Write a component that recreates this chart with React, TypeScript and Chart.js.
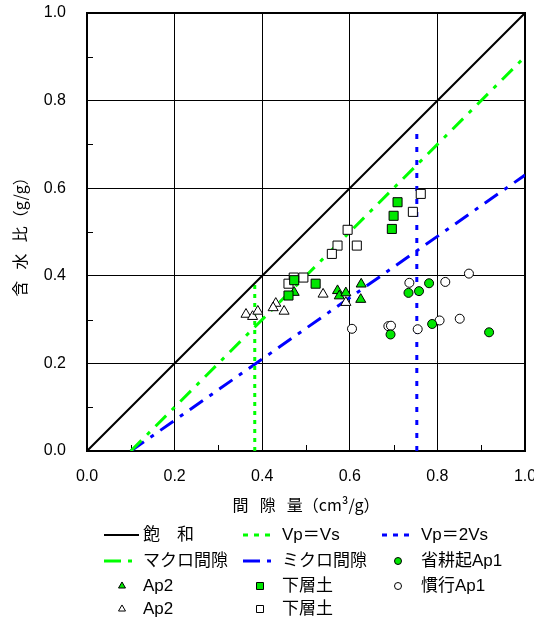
import React, { useEffect, useRef } from 'react';
import { Chart, registerables } from 'chart.js';
Chart.register(...registerables);

// ---- reference lines ----
const saturationX = [0, 1];
const saturationY = [0, 1];
const vpVsX = [0.383, 0.383];
const vpVsY = [0, 0.383];
const vp2VsX = [0.753, 0.753];
const vp2VsY = [0, 0.74];
const macroX = [0.1, 1.0];
const macroY = [0, 0.9];
const microX = [0.1, 1.0];
const microY = [0, 0.63];

// ---- measured points (x: 間隙量, y: 含水比) ----
const noTillAp1X = [0.693, 0.734, 0.758, 0.781, 0.788, 0.918];
const noTillAp1Y = [0.266, 0.361, 0.365, 0.383, 0.290, 0.271];

const convAp1X = [0.605, 0.688, 0.694, 0.736, 0.755, 0.805, 0.818, 0.851, 0.872];
const convAp1Y = [0.279, 0.285, 0.286, 0.384, 0.278, 0.298, 0.386, 0.302, 0.405];

const ap2FilledX = [0.473, 0.572, 0.576, 0.591, 0.626, 0.625];
const ap2FilledY = [0.362, 0.366, 0.354, 0.361, 0.381, 0.346];

const ap2OpenX = [0.363, 0.378, 0.390, 0.431, 0.425, 0.450, 0.539, 0.591];
const ap2OpenY = [0.312, 0.307, 0.319, 0.337, 0.327, 0.319, 0.358, 0.339];

const subFilledX = [0.709, 0.700, 0.696, 0.473, 0.522, 0.460];
const subFilledY = [0.568, 0.537, 0.507, 0.390, 0.382, 0.355];

const subOpenX = [0.595, 0.572, 0.559, 0.616, 0.472, 0.494, 0.460, 0.744, 0.762];
const subOpenY = [0.505, 0.469, 0.450, 0.469, 0.396, 0.396, 0.382, 0.546, 0.587];

const tickValues = [0, 0.2, 0.4, 0.6, 0.8, 1.0];
const xTitle = '間\u2002\u2009隙\u2002\u2009量（cm³/g）';
const yTitle = '含\u2002\u2009水\u2002\u2009比（g/g）';
const legendLabels = ['飽　和', 'Vp＝Vs', 'Vp＝2Vs', 'マクロ間隙', 'ミクロ間隙', '省耕起Ap1', 'Ap2', '下層土', '慣行Ap1', 'Ap2', '下層土'];

const GREEN_LINE = '#00ff00';
const GREEN_FILL = '#00e600';
const BLUE = '#0000ff';
const LATIN = '"Liberation Sans", Arial, "Noto Sans CJK JP", sans-serif';
const CJK = '"Noto Sans CJK JP", "Liberation Sans", sans-serif';
const MIXED = '"Liberation Sans", "Noto Sans CJK JP", sans-serif';

const zip = (xs: number[], ys: number[]) => xs.map((x, i) => ({ x, y: ys[i] }));

const lineDs = (label: string, xs: number[], ys: number[], color: string, width: number, dash: number[]) => ({
  label,
  data: zip(xs, ys),
  showLine: true,
  borderColor: color,
  borderWidth: width,
  borderDash: dash,
  pointRadius: 0,
  fill: false,
  order: 10,
});

const pointDs = (label: string, xs: number[], ys: number[], style: string, fill: string, radius: number, order: number) => ({
  label,
  data: zip(xs, ys),
  showLine: false,
  pointStyle: style,
  pointRadius: radius,
  pointBackgroundColor: fill,
  pointBorderColor: '#000',
  pointBorderWidth: 1,
  order,
});

type LegendItem = { kind: 'line' | 'point'; color: string; width?: number; dash?: number[]; shape?: string; fill?: string };
const legendItems: LegendItem[] = [
  { kind: 'line', color: '#000', width: 2, dash: [] },
  { kind: 'line', color: GREEN_LINE, width: 3, dash: [5, 6] },
  { kind: 'line', color: BLUE, width: 3, dash: [5, 6] },
  { kind: 'line', color: GREEN_LINE, width: 3, dash: [17, 7, 4, 7] },
  { kind: 'line', color: BLUE, width: 3, dash: [17, 7, 4, 7] },
  { kind: 'point', color: '#000', shape: 'circle', fill: GREEN_FILL },
  { kind: 'point', color: '#000', shape: 'triangle', fill: GREEN_FILL },
  { kind: 'point', color: '#000', shape: 'rect', fill: GREEN_FILL },
  { kind: 'point', color: '#000', shape: 'circle', fill: '#fff' },
  { kind: 'point', color: '#000', shape: 'triangle', fill: '#fff' },
  { kind: 'point', color: '#000', shape: 'rect', fill: '#fff' },
];

const colLineStart = [104, 243, 382];
const colLineEnd = [139, 275, 413];
const colMarker = [122, 260, 398];
const colText = [143, 282, 421];
const rowY = [535, 561, 586, 609];

function drawShape(ctx: CanvasRenderingContext2D, shape: string, x: number, y: number, fill: string, s: number) {
  ctx.save();
  ctx.beginPath();
  if (shape === 'circle') {
    ctx.arc(x, y, s / 2, 0, Math.PI * 2);
  } else if (shape === 'rect') {
    ctx.rect(x - s / 2, y - s / 2, s, s);
  } else {
    const r = s / Math.sqrt(3);
    ctx.moveTo(x, y - r);
    ctx.lineTo(x + s / 2, y + r / 2);
    ctx.lineTo(x - s / 2, y + r / 2);
    ctx.closePath();
  }
  ctx.fillStyle = fill;
  ctx.fill();
  ctx.lineWidth = 1;
  ctx.strokeStyle = '#000';
  ctx.stroke();
  ctx.restore();
}

const customPlugin = {
  id: 'customDecor',
  beforeDatasetsDraw(chart: any) {
    const { ctx, chartArea: a, scales } = chart;
    ctx.save();
    ctx.strokeStyle = '#000';
    ctx.lineWidth = 1;
    for (let i = 1; i < 10; i += 2) {
      const v = i / 10;
      const px = Math.round(scales.x.getPixelForValue(v)) + 0.5;
      const py = Math.round(scales.y.getPixelForValue(v)) + 0.5;
      ctx.beginPath();
      ctx.moveTo(px, a.bottom);
      ctx.lineTo(px, a.bottom - 6);
      ctx.moveTo(a.left, py);
      ctx.lineTo(a.left + 6, py);
      ctx.stroke();
    }
    ctx.lineWidth = 2;
    ctx.strokeRect(a.left, a.top, a.right - a.left, a.bottom - a.top);
    ctx.restore();
  },
  afterDraw(chart: any) {
    const { ctx, chartArea: a } = chart;
    ctx.save();
    ctx.fillStyle = '#000';
    ctx.textBaseline = 'middle';
    // axis titles
    ctx.font = `16px ${CJK}`;
    ctx.textAlign = 'center';
    ctx.fillText(xTitle, (a.left + a.right) / 2, 505);
    ctx.save();
    ctx.translate(20, 233);
    ctx.rotate(-Math.PI / 2);
    ctx.fillText(yTitle, 0, 0);
    ctx.restore();
    // legend
    ctx.textAlign = 'left';
    ctx.font = `17px ${MIXED}`;
    legendItems.forEach((it, i) => {
      const col = i % 3;
      const row = Math.floor(i / 3);
      const y = rowY[row];
      if (it.kind === 'line') {
        ctx.save();
        ctx.strokeStyle = it.color;
        ctx.lineWidth = it.width || 2;
        ctx.setLineDash(it.dash || []);
        ctx.beginPath();
        ctx.moveTo(colLineStart[col], y);
        ctx.lineTo(colLineEnd[col], y);
        ctx.stroke();
        ctx.restore();
      } else {
        drawShape(ctx, it.shape || 'circle', colMarker[col], y, it.fill || '#fff', 7);
      }
      ctx.fillStyle = '#000';
      ctx.fillText(legendLabels[i], colText[col], y);
    });
    ctx.restore();
  },
};

export default function App() {
  const ref = useRef<HTMLCanvasElement | null>(null);
  useEffect(() => {
    if (!ref.current) return;
    const chart = new Chart(ref.current, {
      type: 'scatter',
      data: {
        datasets: [
          lineDs('飽和', saturationX, saturationY, '#000', 2, []),
          lineDs('Vp=Vs', vpVsX, vpVsY, GREEN_LINE, 3, [4, 5]),
          lineDs('Vp=2Vs', vp2VsX, vp2VsY, BLUE, 3, [5, 8]),
          lineDs('マクロ間隙', macroX, macroY, GREEN_LINE, 3, [15, 8, 4, 8]),
          lineDs('ミクロ間隙', microX, microY, BLUE, 3, [16, 8, 4, 8]),
          pointDs('慣行Ap1', convAp1X, convAp1Y, 'circle', '#fff', 4.5, 6),
          pointDs('Ap2 open', ap2OpenX, ap2OpenY, 'triangle', '#fff', 5.8, 5),
          pointDs('下層土 open', subOpenX, subOpenY, 'rect', '#fff', 6.4, 4),
          pointDs('省耕起Ap1', noTillAp1X, noTillAp1Y, 'circle', GREEN_FILL, 4.5, 3),
          pointDs('Ap2', ap2FilledX, ap2FilledY, 'triangle', GREEN_FILL, 5.8, 2),
          pointDs('下層土', subFilledX, subFilledY, 'rect', GREEN_FILL, 6.4, 1),
        ] as any,
      },
      options: {
        responsive: false,
        animation: false,
        layout: { autoPadding: false, padding: { top: 13, right: 9, left: 0, bottom: 0 } } as any,
        plugins: { legend: { display: false }, tooltip: { enabled: false } },
        scales: {
          x: {
            type: 'linear',
            min: 0,
            max: 1,
            afterBuildTicks: (s: any) => { s.ticks = tickValues.map((v) => ({ value: v })); },
            afterFit: (s: any) => { s.height = 173; s.paddingLeft = 0; s.paddingRight = 0; },
            ticks: {
              padding: 16,
              color: '#000',
              font: { family: LATIN, size: 16 },
              callback: (v: any) => Number(v).toFixed(1),
            },
            grid: { color: '#000', lineWidth: 1, drawTicks: false },
            border: { display: true, color: '#000', width: 2 },
          },
          y: {
            type: 'linear',
            min: 0,
            max: 1,
            afterBuildTicks: (s: any) => { s.ticks = tickValues.map((v) => ({ value: v })); },
            afterFit: (s: any) => { s.width = 87; s.paddingTop = 0; s.paddingBottom = 0; },
            ticks: {
              padding: 21,
              color: '#000',
              font: { family: LATIN, size: 16 },
              callback: (v: any) => Number(v).toFixed(1),
            },
            grid: { color: '#000', lineWidth: 1, drawTicks: false },
            border: { display: true, color: '#000', width: 2 },
          },
        },
      } as any,
      plugins: [customPlugin],
    });
    return () => chart.destroy();
  }, []);
  return (
    <div style={{ position: 'fixed', left: 0, top: 0, width: 534, height: 624, background: '#fff' }}>
      <canvas ref={ref} width={534} height={624} style={{ display: 'block', width: 534, height: 624 }} />
    </div>
  );
}
